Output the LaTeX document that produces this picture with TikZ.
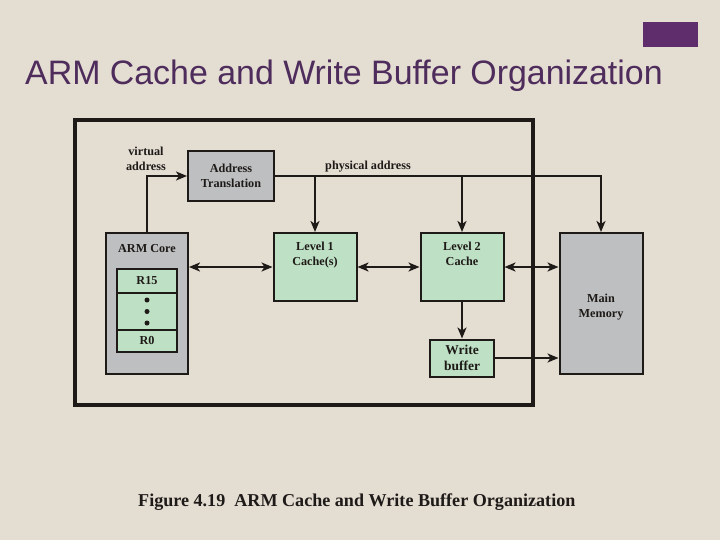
\documentclass[tikz,border=0pt]{standalone}
\usepackage{fontspec}
\setmainfont{Liberation Serif}
\newfontfamily\titlefont{Liberation Sans}
\usetikzlibrary{arrows.meta}
\definecolor{bgc}{RGB}{228,221,210}
\definecolor{grayb}{RGB}{190,191,193}
\definecolor{greenb}{RGB}{190,224,196}
\definecolor{purp}{RGB}{96,45,108}
\definecolor{titlec}{RGB}{78,44,92}
\definecolor{linec}{RGB}{30,26,24}
\begin{document}
\begin{tikzpicture}[x=1pt,y=-1pt,
  box/.style={draw=linec,line width=2pt,inner sep=0pt},
  gbox/.style={box,fill=grayb},
  cbox/.style={box,fill=greenb},
  lbl/.style={font=\fontsize{12.2}{14.5}\selectfont\bfseries,text=linec,align=center},
  conn/.style={draw=linec,line width=2pt},
  tip/.style={-{Stealth[length=11pt,width=9pt,inset=3pt]}},
  btip/.style={{Stealth[length=11pt,width=9pt,inset=3pt]}-{Stealth[length=11pt,width=9pt,inset=3pt]}}]
\fill[bgc] (0,0) rectangle (720,540);
\useasboundingbox (0,0) rectangle (720,540);
% top-right marker
\node[fill=purp,minimum width=55pt,minimum height=25pt,inner sep=0pt] (mark) at (670.5,34.5) {};
% title
\node[anchor=base west,inner sep=0pt,font=\titlefont\fontsize{33.9}{38}\selectfont,text=titlec] (title) at (25,85) {ARM Cache and Write Buffer Organization};
% outer frame
\node[draw=linec,line width=3.6pt,minimum width=458pt,minimum height=285pt,inner sep=0pt] (frame) at (304,262.5) {};
% boxes
\node[gbox,minimum width=86pt,minimum height=50pt] (at) at (231,176) {};
\node[lbl] (attxt) at (231,176) {Address\\Translation};
\node[gbox,minimum width=82pt,minimum height=141pt] (arm) at (147,303.5) {};
\node[lbl,anchor=base] (armtxt) at (147,252) {ARM Core};
\node[cbox,minimum width=60pt,minimum height=24pt] (r15) at (147,281) {};
\node[lbl] at (r15) {R15};
\node[cbox,minimum width=60pt,minimum height=37pt] (dots) at (147,311.5) {};
\fill[linec] (147,300) circle (2.5pt) (147,311.5) circle (2.5pt) (147,323) circle (2.5pt);
\node[cbox,minimum width=60pt,minimum height=22pt] (r0) at (147,341) {};
\node[lbl] at (r0) {R0};
\node[cbox,minimum width=83pt,minimum height=68pt] (l1) at (315,267) {};
\node[lbl,anchor=north] at (315,239) {Level 1\\Cache(s)};
\node[cbox,minimum width=83pt,minimum height=68pt] (l2) at (462,267) {};
\node[lbl,anchor=north] at (462,239) {Level 2\\Cache};
\node[gbox,minimum width=83pt,minimum height=141pt] (mm) at (601,303.5) {};
\node[lbl] at (601,307) {Main\\Memory};
\node[cbox,minimum width=64pt,minimum height=37pt] (wb) at (462,358) {};
\node[lbl,font=\fontsize{13.5}{16}\selectfont\bfseries] at (wb) {Write\\buffer};
% labels
\node[lbl] (va) at (146,159) {virtual\\address};
\node[lbl,anchor=base] (pa) at (368,170) {physical address};
% connectors
\coordinate (pc) at (601,176);
\draw[conn,tip] (arm.north) |- (at.west);
\draw[conn,tip] (at.east) -- (pc) -- (mm.north);
\draw[conn,tip] (at.east -| l1.north) -- (l1.north);
\draw[conn,tip] (at.east -| l2.north) -- (l2.north);
\draw[conn,btip] (arm.east |- l1.west) -- (l1.west);
\draw[conn,btip] (l1.east) -- (l2.west);
\draw[conn,btip] (l2.east) -- (mm.west |- l2.east);
\draw[conn,tip] (l2.south -| wb.north) -- (wb.north);
\draw[conn,tip] (wb.east) -- (mm.west |- wb.east);
% caption
\node[anchor=base west,inner sep=0pt,font=\fontsize{18.1}{21}\selectfont\bfseries,text=linec] (cap) at (138,506) {Figure 4.19\ \ ARM Cache and Write Buffer Organization};
\end{tikzpicture}
\end{document}
